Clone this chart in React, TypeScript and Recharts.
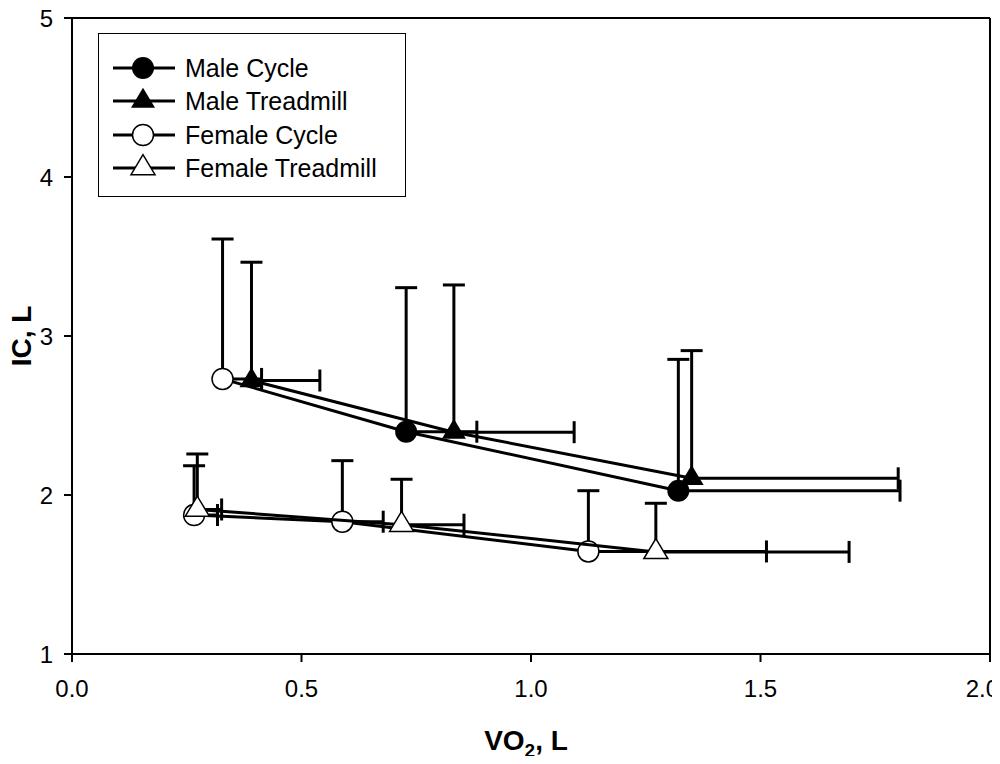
import React from 'react';
import { ScatterChart, Scatter, XAxis, YAxis, ErrorBar, ReferenceLine, Legend, Label } from 'recharts';

const seriesNames = ['Male Cycle', 'Male Treadmill', 'Female Cycle', 'Female Treadmill'];

const xTicks = [0, 0.5, 1.0, 1.5, 2.0];
const yTicks = [1, 2, 3, 4, 5];

// Male Cycle
const maleCycleX = [0.328, 0.728, 1.321];
const maleCycleY = [2.73, 2.398, 2.027];
const maleCycleXErr = [0.085, 0.154, 0.483];
const maleCycleYErr = [0.88, 0.906, 0.826];

// Male Treadmill
const maleTreadX = [0.391, 0.832, 1.35];
const maleTreadY = [2.72, 2.395, 2.105];
const maleTreadXErr = [0.149, 0.262, 0.45];
const maleTreadYErr = [0.744, 0.926, 0.803];

// Female Cycle
const femaleCycleX = [0.266, 0.589, 1.125];
const femaleCycleY = [1.874, 1.832, 1.645];
const femaleCycleXErr = [0.051, 0.089, 0.388];
const femaleCycleYErr = [0.31, 0.384, 0.382];

// Female Treadmill
const femaleTreadX = [0.273, 0.718, 1.272];
const femaleTreadY = [1.909, 1.813, 1.642];
const femaleTreadXErr = [0.053, 0.136, 0.421];
const femaleTreadYErr = [0.349, 0.286, 0.306];

const build = (xs: number[], ys: number[], exs: number[], eys: number[]) =>
  xs.map((x, i) => ({ x, y: ys[i], ex: [0, exs[i]], ey: [0, eys[i]] }));

const maleCycleData = build(maleCycleX, maleCycleY, maleCycleXErr, maleCycleYErr);
const maleTreadData = build(maleTreadX, maleTreadY, maleTreadXErr, maleTreadYErr);
const femaleCycleData = build(femaleCycleX, femaleCycleY, femaleCycleXErr, femaleCycleYErr);
const femaleTreadData = build(femaleTreadX, femaleTreadY, femaleTreadXErr, femaleTreadYErr);

const allData = [maleCycleData, maleTreadData, femaleCycleData, femaleTreadData];

// error-bar end points (caps), derived from the series arrays
const yCapData = allData.flatMap((d) => d.map((p) => ({ x: p.x, y: p.y + p.ey[1] })));
const xCapData = allData.flatMap((d) => d.map((p) => ({ x: p.x + p.ex[1], y: p.y })));

const FONT = '"Liberation Sans", Arial, Helvetica, sans-serif';
const CAP = 11;

function drawMarker(kind: string, filled: boolean, cx: number, cy: number) {
  if (kind === 'circle') {
    return (
      <circle
        cx={cx}
        cy={cy}
        r={filled ? 11 : 10.5}
        fill={filled ? '#000' : '#fff'}
        stroke="#000"
        strokeWidth={filled ? 0 : 1.5}
      />
    );
  }
  const h = 20;
  const w = 24;
  const pts = `${cx},${cy - (2 * h) / 3} ${cx - w / 2},${cy + h / 3} ${cx + w / 2},${cy + h / 3}`;
  return (
    <polygon
      points={pts}
      fill={filled ? '#000' : '#fff'}
      stroke="#000"
      strokeWidth={filled ? 0 : 1.5}
    />
  );
}

const noShape = () => <g />;
const yCapShape = (p: any) => (
  <line x1={p.cx - CAP} x2={p.cx + CAP} y1={p.cy} y2={p.cy} stroke="#000" strokeWidth={3} />
);
const xCapShape = (p: any) => (
  <line x1={p.cx} x2={p.cx} y1={p.cy - CAP} y2={p.cy + CAP} stroke="#000" strokeWidth={3} />
);

const maleCycleShape = (p: any) =>
  drawMarker('circle', !(p.payload && p.payload.x === maleCycleX[0]), p.cx, p.cy);
const maleTreadShape = (p: any) => drawMarker('triangle', true, p.cx, p.cy);
const femaleCycleShape = (p: any) => drawMarker('circle', false, p.cx, p.cy);
const femaleTreadShape = (p: any) => drawMarker('triangle', false, p.cx, p.cy);

const legendItems = [
  { name: seriesNames[0], kind: 'circle', filled: true },
  { name: seriesNames[1], kind: 'triangle', filled: true },
  { name: seriesNames[2], kind: 'circle', filled: false },
  { name: seriesNames[3], kind: 'triangle', filled: false },
];

const renderLegend = () => (
  <div
    style={{
      width: 308,
      height: 164,
      border: '1.5px solid #000',
      boxSizing: 'border-box',
      position: 'relative',
      background: '#fff',
      fontFamily: FONT,
    }}
  >
    {legendItems.map((it, i) => (
      <div
        key={it.name}
        style={{
          position: 'absolute',
          left: 0,
          top: 18.5 + i * 33.5,
          height: 30,
          display: 'flex',
          alignItems: 'center',
          whiteSpace: 'nowrap',
        }}
      >
        <svg width={66} height={30} style={{ marginLeft: 12, display: 'block' }}>
          <line x1={2} y1={15} x2={64} y2={15} stroke="#000" strokeWidth={3} />
          {drawMarker(it.kind, it.filled, 32, 15)}
        </svg>
        <span style={{ marginLeft: 8, fontSize: 25, lineHeight: '30px', color: '#000' }}>{it.name}</span>
      </div>
    ))}
  </div>
);

const XTitle = (props: any) => {
  const vb = props.viewBox || { x: 72, y: 654, width: 918, height: 110 };
  const x = vb.x + vb.width / 2 - 5;
  const y = vb.y + 96;
  return (
    <text x={x} y={y} textAnchor="middle" fontFamily={FONT} fontWeight="bold" fontSize={28} fill="#000">
      <tspan>VO</tspan>
      <tspan fontSize={19} dy={7}>2</tspan>
      <tspan dy={-7}>, L</tspan>
    </text>
  );
};

const YTitle = (props: any) => {
  const vb = props.viewBox || { x: 0, y: 18, width: 72, height: 636 };
  const x = vb.x + 31;
  const y = vb.y + vb.height / 2;
  return (
    <text
      x={x}
      y={y}
      transform={`rotate(-90 ${x} ${y})`}
      textAnchor="middle"
      fontFamily={FONT}
      fontWeight="bold"
      fontSize={28}
      fill="#000"
    >
      IC, L
    </text>
  );
};

const XTick = (props: any) => {
  const { x, y, payload } = props;
  const isLast = payload.value === xTicks[xTicks.length - 1];
  return (
    <text
      x={isLast ? x + 9 : x}
      y={y}
      dy="0.71em"
      textAnchor={isLast ? 'end' : 'middle'}
      fontFamily={FONT}
      fontSize={24}
      fill="#000"
    >
      {Number(payload.value).toFixed(1)}
    </text>
  );
};

const tickStyle = { fill: '#000', fontSize: 24, fontFamily: FONT };
const lineStyle = { stroke: '#000', strokeWidth: 3 };
const errProps = { width: 0, strokeWidth: 3, stroke: '#000' };

export default function App() {
  return (
    <div style={{ margin: '-8px 0 -8px -8px', width: 1000, height: 764 }}>
      <ScatterChart width={1000} height={764} margin={{ top: 18, right: 10, left: 0, bottom: 0 }}>
        <XAxis
          type="number"
          dataKey="x"
          domain={[0, 2]}
          ticks={xTicks}
          axisLine={{ stroke: '#000', strokeWidth: 2 }}
          tickLine={{ stroke: '#000', strokeWidth: 2 }}
          tickSize={8}
          tickMargin={18}
          height={110}
          tick={<XTick />}
          allowDataOverflow
          interval={0}
        >
          <Label content={XTitle} />
        </XAxis>
        <YAxis
          type="number"
          dataKey="y"
          domain={[1, 5]}
          ticks={yTicks}
          width={72}
          axisLine={{ stroke: '#000', strokeWidth: 2 }}
          tickLine={{ stroke: '#000', strokeWidth: 2 }}
          tickSize={8}
          tickMargin={11}
          tick={tickStyle}
          allowDataOverflow
          interval={0}
        >
          <Label content={YTitle} />
        </YAxis>
        <ReferenceLine y={5} stroke="#000" strokeWidth={2} />
        <ReferenceLine x={2} stroke="#000" strokeWidth={2} />
        <Legend
          layout="vertical"
          align="center"
          verticalAlign="middle"
          content={renderLegend}
          wrapperStyle={{ left: 98, top: 33, width: 308, height: 164 }}
        />

        {allData.map((d, i) => (
          <Scatter key={`err-${i}`} data={d} shape={noShape} legendType="none" isAnimationActive={false}>
            <ErrorBar dataKey="ey" direction="y" {...errProps} />
            <ErrorBar dataKey="ex" direction="x" {...errProps} />
          </Scatter>
        ))}
        <Scatter data={yCapData} shape={yCapShape} legendType="none" isAnimationActive={false} />
        <Scatter data={xCapData} shape={xCapShape} legendType="none" isAnimationActive={false} />

        <Scatter name={seriesNames[0]} data={maleCycleData} shape={maleCycleShape} line={lineStyle} lineType="joint" isAnimationActive={false} />
        <Scatter name={seriesNames[1]} data={maleTreadData} shape={maleTreadShape} line={lineStyle} lineType="joint" isAnimationActive={false} />
        <Scatter name={seriesNames[2]} data={femaleCycleData} shape={femaleCycleShape} line={lineStyle} lineType="joint" isAnimationActive={false} />
        <Scatter name={seriesNames[3]} data={femaleTreadData} shape={femaleTreadShape} line={lineStyle} lineType="joint" isAnimationActive={false} />
      </ScatterChart>
    </div>
  );
}
